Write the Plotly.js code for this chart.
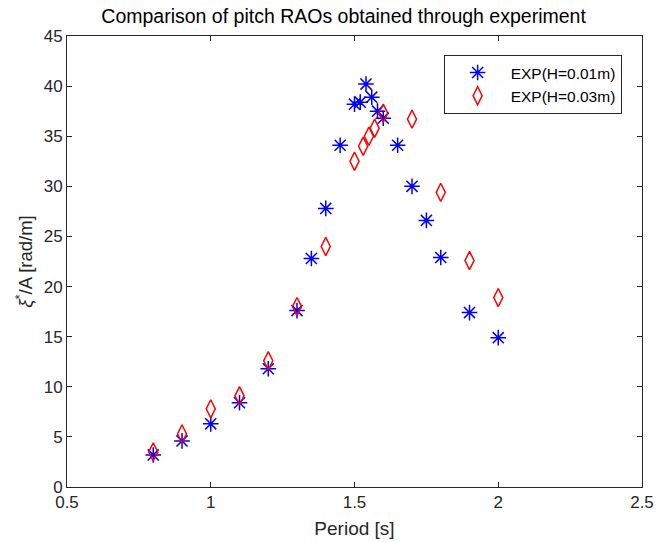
<!DOCTYPE html>
<html>
<head>
<meta charset="utf-8">
<script src="https://cdn.plot.ly/plotly-3.0.1.min.js"></script>
<style>html,body{margin:0;padding:0;background:#fff;}#chart{width:672px;height:542px;}</style>
</head>
<body>
<div id="chart"></div>
<script>
const periodH01 = [0.8, 0.9, 1.0, 1.1, 1.2, 1.3, 1.35, 1.4, 1.45, 1.5, 1.52, 1.54, 1.56, 1.58, 1.6, 1.65, 1.7, 1.75, 1.8, 1.9, 2.0];
const raoH01 = [3.2, 4.6, 6.3, 8.4, 11.8, 17.6, 22.8, 27.8, 34.1, 38.2, 38.4, 40.2, 38.9, 37.5, 36.8, 34.1, 30.0, 26.6, 22.9, 17.4, 14.9];
const periodH03 = [0.8, 0.9, 1.0, 1.1, 1.2, 1.3, 1.4, 1.5, 1.53, 1.55, 1.57, 1.6, 1.7, 1.8, 1.9, 2.0];
const raoH03 = [3.5, 5.3, 7.8, 9.1, 12.6, 18.0, 24.0, 32.5, 34.0, 35.0, 35.8, 37.3, 36.7, 29.4, 22.6, 18.9];
const seriesNames = ['EXP(H=0.01m)', 'EXP(H=0.03m)'];
const xTicks = [0.5, 1, 1.5, 2, 2.5];
const xTickText = ['0.5', '1', '1.5', '2', '2.5'];
const yTicks = [0, 5, 10, 15, 20, 25, 30, 35, 40, 45];

const font = 'Arial, "Liberation Sans", Helvetica, sans-serif';
const traces = [
  {x: periodH01, y: raoH01, name: seriesNames[0], mode: 'markers', type: 'scatter',
   marker: {symbol: 'asterisk-open', size: 13, color: '#0000ff', line: {color: '#0000ff', width: 1.5}}},
  {x: periodH03, y: raoH03, name: seriesNames[1], mode: 'markers', type: 'scatter',
   marker: {symbol: 'diamond-tall-open', size: 13, color: '#ff0000', line: {color: '#ff0000', width: 1.5}}}
];
const axisCommon = {showgrid: false, zeroline: false, showline: true, linecolor: '#262626', linewidth: 1,
  mirror: 'ticks', ticks: 'inside', ticklen: 5, tickcolor: '#262626', tickfont: {family: font, size: 17, color: '#262626'}};
const layout = {
  width: 672, height: 542,
  margin: {l: 67, r: 30, t: 36, b: 55},
  paper_bgcolor: '#ffffff', plot_bgcolor: '#ffffff',
  title: {text: 'Comparison of pitch RAOs obtained through experiment', font: {family: font, size: 19.5, color: '#000'},
    xref: 'paper', x: 0.481, xanchor: 'center', y: 0.982, yanchor: 'top'},
  xaxis: Object.assign({}, axisCommon, {range: [0.5, 2.5], tickvals: xTicks, ticktext: xTickText,
    title: {text: 'Period [s]', font: {family: font, size: 19, color: '#262626'}, standoff: 10}}),
  yaxis: Object.assign({}, axisCommon, {range: [0, 45], tickvals: yTicks,
    title: {text: '<i>ξ</i><sup>*</sup>/A [rad/m]', font: {family: font, size: 18.5, color: '#262626'}, standoff: 6}}),
  legend: {x: 0.655, y: 0.958, xanchor: 'left', yanchor: 'top', bgcolor: '#fff', bordercolor: '#262626', borderwidth: 1,
    font: {family: font, size: 15.5, color: '#000'}, itemwidth: 56},
  showlegend: true
};
Plotly.newPlot('chart', traces, layout, {displayModeBar: false, staticPlot: true});
</script>
</body>
</html>
